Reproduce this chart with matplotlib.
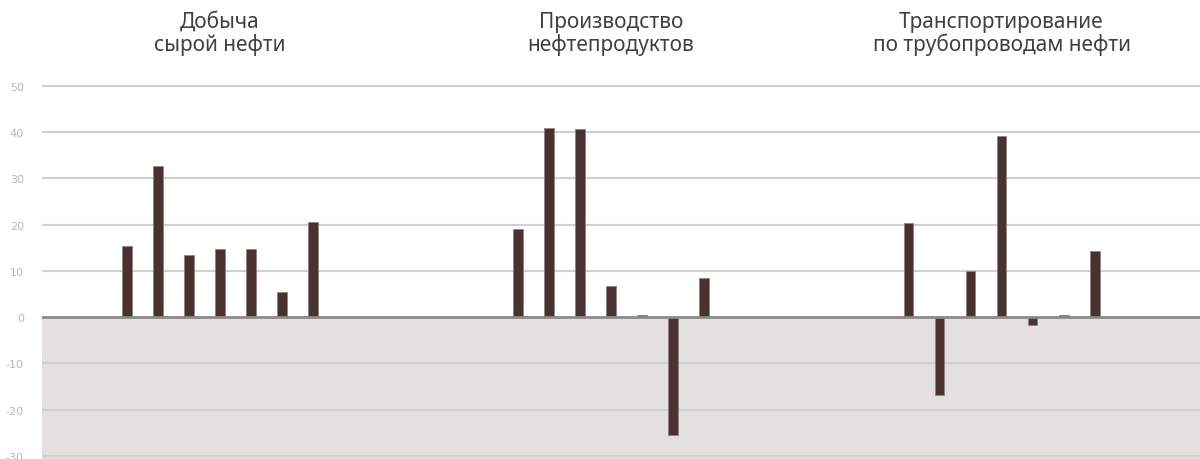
import matplotlib
matplotlib.use("Agg")
import matplotlib.pyplot as plt
import numpy as np

groups = ["Добыча\nсырой нефти", "Производство\nнефтепродуктов", "Транспортирование\nпо трубопроводам нефти"]
dobycha = [15.4, 32.7, 13.5, 14.8, 14.8, 5.5, 20.7]
proizvodstvo = [19.0, 41.0, 40.7, 6.7, 0.5, -25.5, 8.4]
transport = [20.4, -16.8, 10.0, 39.2, -1.7, 0.4, 14.4]
yticks = [50, 40, 30, 20, 10, 0, -10, -20, -30]

series = [dobycha, proizvodstvo, transport]
group_gap = 12.6
bar_w = 0.32

fig = plt.figure(figsize=(12, 4.6), dpi=100)
ax = fig.add_axes([42/1200, 0, 1158/1200, 1 - 77.75/460])
ax.set_xlim(-5.74, 31.6)
ax.set_ylim(-30.65, 52)

ax.axhspan(-30.65, 0, color="#e4e0df", zorder=0, lw=0)
for t in yticks:
    if t != 0:
        ax.axhline(t, color="#d0d0d0", lw=1.5, zorder=1)
ax.axhline(0, color="#8a8a8a", lw=2, zorder=3)

for g, vals in enumerate(series):
    xs = g * group_gap + np.arange(len(vals)) - (len(vals) - 1) / 2
    ax.bar(xs, vals, width=bar_w, color="#4a3233", edgecolor="#8c7f80", linewidth=0.5, zorder=2)
    fig.text((42 + (g * group_gap + 5.74) / 37.34 * 1158) / 1200, 1 - 12/460, groups[g],
             ha="center", va="top", fontsize=15, color="#404040",
             family=["Noto Sans", "DejaVu Sans"], linespacing=1.05)

ax.set_yticks(yticks)
ax.set_yticklabels([str(t) for t in yticks], fontsize=8, color="#bdb5b5",
                   family=["Liberation Sans Narrow", "DejaVu Sans"])
ax.tick_params(axis="y", length=0, pad=13)
ax.set_xticks([])
for s in ax.spines.values():
    s.set_visible(False)

fig.savefig("out.png", dpi=100)
